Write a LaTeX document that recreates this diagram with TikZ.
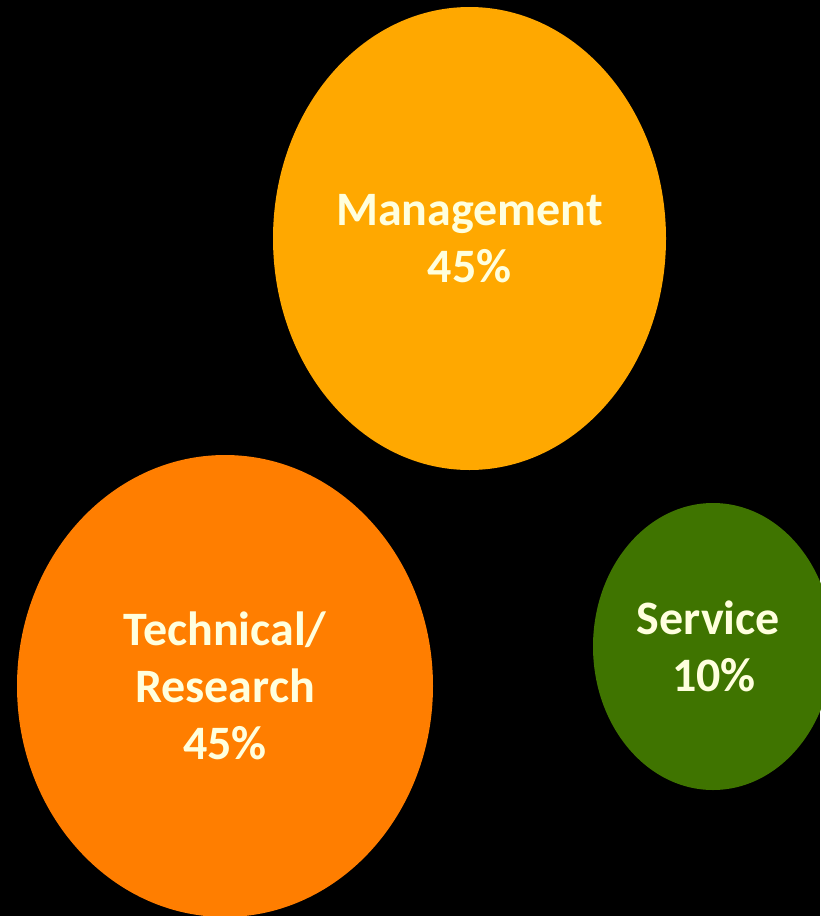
\documentclass[tikz,border=0pt]{standalone}
\usepackage{fontspec}
\setmainfont{Carlito}
\usetikzlibrary{shapes.geometric}
\definecolor{mgmtorange}{RGB}{255,168,0}
\definecolor{techorange}{RGB}{255,126,0}
\definecolor{servgreen}{RGB}{63,116,0}
\definecolor{labeltext}{RGB}{255,255,222}

\begin{document}
\begin{tikzpicture}[x=1pt,y=-1pt,
  blob/.style={ellipse,inner sep=0pt,align=center,text=labeltext,
    font=\fontsize{48}{57}\selectfont\bfseries}]
\fill[black] (0,0) rectangle (820,916);
\useasboundingbox (0,0) rectangle (820,916);
\node[blob,fill=mgmtorange,minimum width=393pt,minimum height=463pt] (mgmt) at (469.5,238.5) {Management\\45\%};
\node[blob,fill=techorange,minimum width=416pt,minimum height=462pt] (tech) at (225,686) {Technical/\\Research\\45\%};
\node[blob,fill=servgreen,minimum width=240pt,minimum height=287pt] (serv) at (713,646.5) {};
\node[blob,xshift=-4.5pt] (servtext) at (serv.center) {Service\\\ 10\%};
\end{tikzpicture}
\end{document}
